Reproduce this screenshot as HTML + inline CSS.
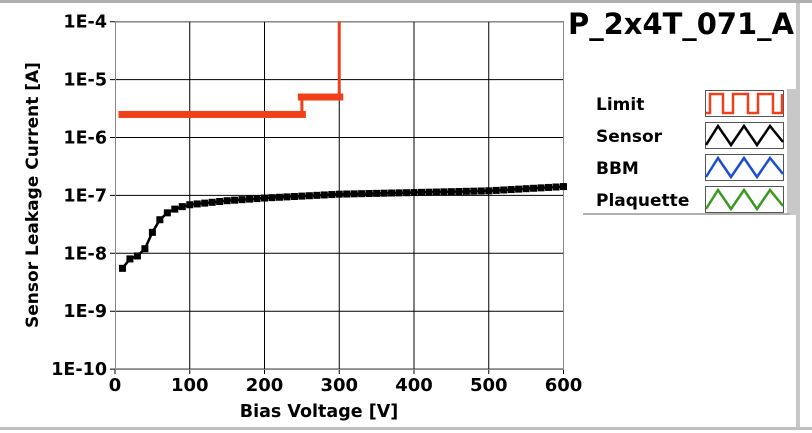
<!DOCTYPE html>
<html><head><meta charset="utf-8"><style>
html,body{margin:0;padding:0;background:#fff;}
svg{display:block;font-family:"DejaVu Sans","Liberation Sans",sans-serif;font-weight:bold;}
</style></head><body>
<svg id="s" width="812" height="433" xmlns="http://www.w3.org/2000/svg">
<rect x="0" y="0" width="812" height="3" fill="#b0b0b0"/>
<rect x="0" y="427" width="812" height="3" fill="#c0c0c0"/>
<rect x="796" y="3" width="4" height="424" fill="#c8c8c8"/>
<g id="grid" stroke="#000" stroke-width="1"></g>
<rect x="115.5" y="21.5" width="448" height="348" fill="none" stroke="#888" stroke-width="1"/>
<g id="ylab" font-size="17.5" text-anchor="end"></g>
<g id="xlab" font-size="18" text-anchor="middle"></g>
<text x="319" y="417" font-size="17.5" text-anchor="middle">Bias Voltage [V]</text>
<text transform="translate(38,195) rotate(-90)" font-size="17" text-anchor="middle">Sensor Leakage Current [A]</text>
<text x="681" y="34" font-size="29" text-anchor="middle" textLength="226" lengthAdjust="spacingAndGlyphs">P_2x4T_071_A</text>
<g id="data"></g>
<rect x="787" y="89" width="9" height="126" fill="#c8c8c8"/>
<rect x="583" y="213" width="207" height="2" fill="#b0b0b0"/>
<g font-size="17">
<text x="596" y="110">Limit</text>
<text x="596" y="142">Sensor</text>
<text x="596" y="174">BBM</text>
<text x="596" y="206">Plaquette</text>
</g>
<g id="leg"></g>
</svg>
<script>
const NS="http://www.w3.org/2000/svg";
function el(p,t,a,txt){const e=document.createElementNS(NS,t);for(const k in a)e.setAttribute(k,a[k]);if(txt)e.textContent=txt;document.getElementById(p).appendChild(e);return e;}
const X=v=>115+v*0.7475, Y=v=>21.7+(-4-Math.log10(v))*57.9;
for(let i=1;i<6;i++)el("grid","line",{x1:X(i*100),x2:X(i*100),y1:21,y2:369});
for(let d=-4;d>=-10;d--){const y=21.7+(-4-d)*57.9;el("grid","line",{x1:110,x2:563,y1:y,y2:y});el("ylab","text",{x:107,y:y+6},"1E"+d);}
for(let i=0;i<=6;i++){el("grid","line",{x1:X(i*100),x2:X(i*100),y1:369,y2:374});el("xlab","text",{x:X(i*100),y:391},String(i*100));}
let lp=[];for(let v=10;v<=250;v+=10)lp.push([v,2.5e-6]);lp.push([250,5e-6]);for(let v=260;v<=300;v+=10)lp.push([v,5e-6]);lp.push([300,1e-4]);
el("data","polyline",{points:lp.map(p=>X(p[0])+","+Y(p[1])).join(" "),fill:"none",stroke:"#f0401a","stroke-width":3});
lp.slice(0,-1).forEach(p=>el("data","rect",{x:X(p[0])-4,y:Y(p[1])-3.5,width:8,height:7,fill:"#f0401a"}));
const kn=[[10,5.5e-9],[20,8e-9],[30,9e-9],[40,1.2e-8],[50,2.3e-8],[60,3.8e-8],[70,5e-8],[80,5.8e-8],[90,6.4e-8],[100,6.9e-8],[150,8.1e-8],[200,9e-8],[300,1.05e-7],[400,1.12e-7],[500,1.2e-7],[600,1.42e-7]];
function interp(v){for(let i=0;i<kn.length-1;i++){const a=kn[i],b=kn[i+1];if(v>=a[0]&&v<=b[0]){const t=(v-a[0])/(b[0]-a[0]);return Math.pow(10,Math.log10(a[1])+t*(Math.log10(b[1])-Math.log10(a[1])));}}return kn[kn.length-1][1];}
let sp=[];for(let v=10;v<=600;v+=10)sp.push([v,interp(v)]);
el("data","polyline",{points:sp.map(p=>X(p[0])+","+Y(p[1])).join(" "),fill:"none",stroke:"#000","stroke-width":2.5});
sp.forEach(p=>el("data","rect",{x:X(p[0])-3.5,y:Y(p[1])-3.5,width:7,height:7,fill:"#000"}));
const cols=["#f0401a","#000","#1a4fd0","#3a9a20"],ys=[90,122,154,186];
cols.forEach((c,i)=>{const y=ys[i];el("leg","rect",{x:705.5,y:y+.5,width:78,height:26,fill:"#fff",stroke:"#555"});
let pts;if(i==0){pts="706,"+(y+23)+" 710,"+(y+23)+" 710,"+(y+4)+" 723,"+(y+4)+" 723,"+(y+23)+" 733,"+(y+23)+" 733,"+(y+4)+" 748,"+(y+4)+" 748,"+(y+23)+" 758,"+(y+23)+" 758,"+(y+4)+" 773,"+(y+4)+" 773,"+(y+23)+" 782,"+(y+23)+" 782,"+(y+4);}
else{pts="706,"+(y+23)+" 718,"+(y+4)+" 731,"+(y+23)+" 744,"+(y+4)+" 757,"+(y+23)+" 770,"+(y+4)+" 783,"+(y+20);}
el("leg","polyline",{points:pts,fill:"none",stroke:c,"stroke-width":2.5});});
</script>
</body></html>
